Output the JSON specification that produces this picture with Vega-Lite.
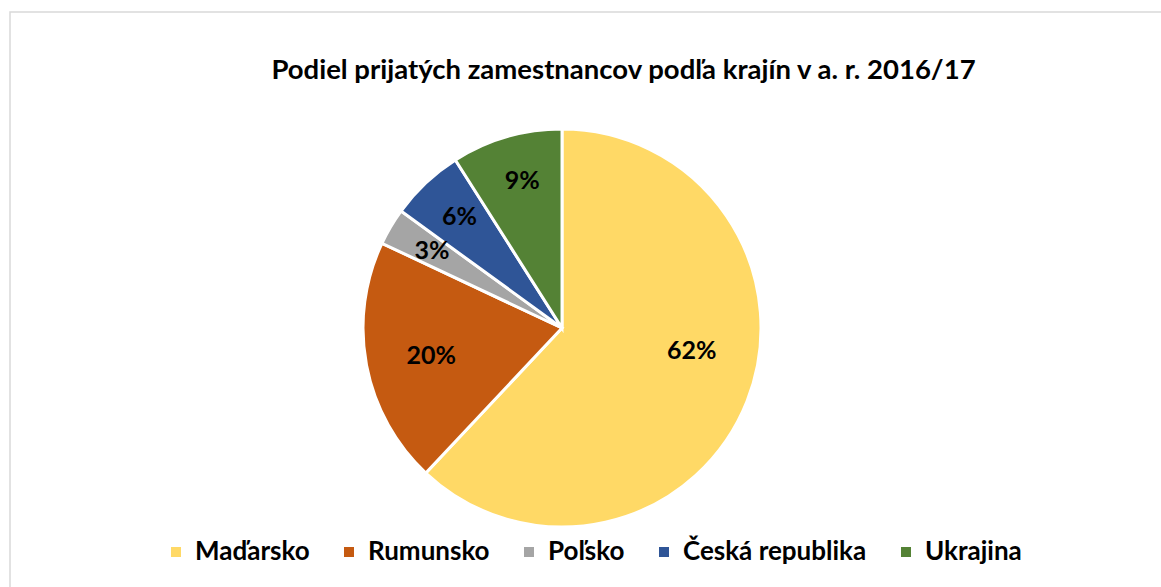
{
  "$schema": "https://vega.github.io/schema/vega-lite/v6.json",
  "width": 1161,
  "height": 587,
  "autosize": {"type": "fit", "contains": "padding"},
  "padding": {"left": 10, "top": 12, "right": -6, "bottom": -6},
  "background": "white",
  "view": {"stroke": "#d9d9d9", "strokeWidth": 1.5},
  "config": {
    "view": {"stroke": "#d9d9d9", "strokeWidth": 1.5},
    "font": "Lato"
  },
  "title": {
    "text": "Podiel prijatých zamestnancov podľa krajín v a. r. 2016/17",
    "font": "Lato",
    "fontSize": 27.5,
    "fontWeight": "bold",
    "color": "#000000",
    "anchor": "middle",
    "offset": -72,
    "dx": 35
  },
  "data": {
    "values": [
      {"krajina": "Maďarsko", "podiel": 0.62, "poradie": 1},
      {"krajina": "Rumunsko", "podiel": 0.20, "poradie": 2},
      {"krajina": "Poľsko", "podiel": 0.03, "poradie": 3},
      {"krajina": "Česká republika", "podiel": 0.06, "poradie": 4},
      {"krajina": "Ukrajina", "podiel": 0.09, "poradie": 5}
    ]
  },
  "encoding": {
    "theta": {"field": "podiel", "type": "quantitative", "stack": true},
    "order": {"field": "poradie", "type": "quantitative"}
  },
  "layer": [
    {
      "mark": {"type": "arc", "radius": 199, "stroke": "white", "strokeWidth": 3, "xOffset": -26.5, "yOffset": 25.5},
      "encoding": {
        "color": {
          "field": "krajina",
          "type": "nominal",
          "sort": ["Maďarsko", "Rumunsko", "Poľsko", "Česká republika", "Ukrajina"],
          "scale": {
            "domain": ["Maďarsko", "Rumunsko", "Poľsko", "Česká republika", "Ukrajina"],
            "range": ["#FFD966", "#C55A11", "#A5A5A5", "#2F5597", "#548235"]
          },
          "legend": {
            "orient": "none",
            "direction": "horizontal",
            "columns": 5,
            "legendX": 153,
            "legendY": 527,
            "title": null,
            "symbolType": "square",
            "symbolSize": 100,
            "symbolStrokeWidth": 0,
            "labelFont": "Lato",
            "labelFontSize": 26,
            "labelFontWeight": "bold",
            "labelColor": "#000000",
            "labelOffset": 6,
            "columnPadding": 26,
            "labelLimit": 400
          }
        }
      }
    },
    {
      "mark": {"type": "text", "radius": 133, "font": "Lato", "fontSize": 25, "fontWeight": "bold", "xOffset": -20.5, "yOffset": -0.5},
      "encoding": {
        "detail": {"field": "krajina", "type": "nominal"},
        "color": {"value": "#000000"},
        "text": {"condition": {"test": "datum.podiel >= 0.5", "field": "podiel", "type": "quantitative", "format": ".0%"}, "value": ""}
      }
    },
    {
      "mark": {"type": "text", "radius": 133, "font": "Lato", "fontSize": 25, "fontWeight": "bold", "xOffset": -26.5, "yOffset": 29},
      "encoding": {
        "detail": {"field": "krajina", "type": "nominal"},
        "color": {"value": "#000000"},
        "text": {"condition": {"test": "datum.podiel >= 0.15 && datum.podiel < 0.5", "field": "podiel", "type": "quantitative", "format": ".0%"}, "value": ""}
      }
    },
    {
      "mark": {"type": "text", "radius": 155, "font": "Lato", "fontSize": 25, "fontWeight": "bold", "xOffset": -23, "yOffset": 27},
      "encoding": {
        "detail": {"field": "krajina", "type": "nominal"},
        "color": {"value": "#000000"},
        "text": {"condition": {"test": "datum.podiel < 0.15", "field": "podiel", "type": "quantitative", "format": ".0%"}, "value": ""}
      }
    }
  ]
}
